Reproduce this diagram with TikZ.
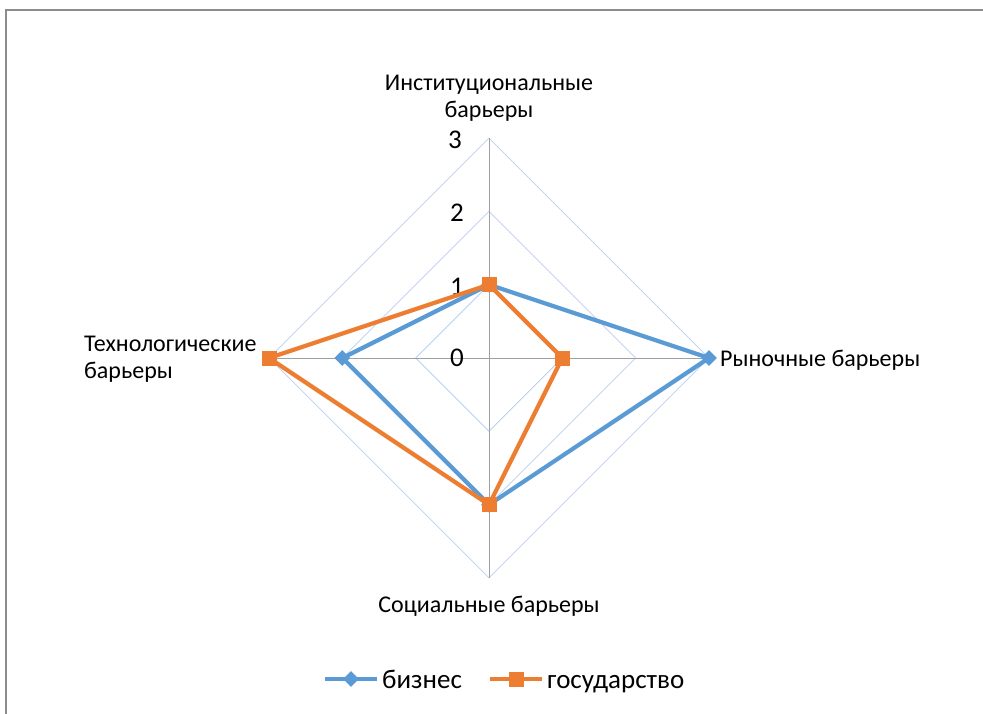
\documentclass[tikz,border=0pt]{standalone}
\usepackage{fontspec}
\setmainfont{Carlito}
\usetikzlibrary{shapes.geometric}
\definecolor{bizblue}{HTML}{5B9BD5}
\definecolor{govorange}{HTML}{ED7D31}
\definecolor{gridblue}{HTML}{B9CEEE}
\definecolor{axisgray}{HTML}{A0A0A0}
\definecolor{framegray}{HTML}{8C8C8C}
\tikzset{
  lbl/.style={font=\fontsize{24}{27}\selectfont, inner sep=0pt},
  biglbl/.style={font=\fontsize{27}{30}\selectfont, inner sep=0pt},
  ticklbl/.style={biglbl, anchor=base east},
  bizmark/.style={diamond, fill=bizblue, inner sep=0pt, minimum size=16pt},
  govmark/.style={rectangle, fill=govorange, inner sep=0pt, minimum size=15pt},
  bizline/.style={bizblue, line width=4.2pt},
  govline/.style={govorange, line width=4.2pt}
}
\begin{document}
\begin{tikzpicture}[x=1pt,y=1pt]
      \useasboundingbox (0,-714) rectangle (983,0);
      \draw[framegray, line width=1.5pt] (6,-714) -- (6,-10) -- (983,-10);
      \begin{scope}[shift={(489,-358)}]
        % grid
        \foreach \r in {1,2,3}
          \draw[gridblue, line width=0.8pt]
            (0:\r*73.3) -- (90:\r*73.3) -- (180:\r*73.3) -- (270:\r*73.3) -- cycle;
        \coordinate (c) at (0,0);
        \coordinate (inst) at (90:220);
        \coordinate (mkt) at (0:220);
        \coordinate (soc) at (270:220);
        \coordinate (tech) at (180:220);
        \begin{scope}[axisgray, line width=1pt]
          \draw (c) to (inst);
          \draw (c) to (mkt);
          \draw (c) to (soc);
          \draw (c) to (tech);
        \end{scope}
        % scale
        \node[ticklbl] (t0) at (-25,-8.5) {0};
        \node[ticklbl] (t1) at (-25,62.5) {1};
        \node[ticklbl] (t2) at (-25,136.5) {2};
        \node[ticklbl] (t3) at (-27,209.5) {3};
        % series
        \coordinate (b1) at (90:73.3);
        \coordinate (b2) at (0:220);
        \coordinate (b3) at (270:146.7);
        \coordinate (b4) at (180:146.7);
        \coordinate (g1) at (90:73.3);
        \coordinate (g2) at (0:73.3);
        \coordinate (g3) at (270:146.7);
        \coordinate (g4) at (180:220);
        \draw[bizline, line join=round] (b1) -- (b2) -- (b3) -- (b4) -- cycle;
        \foreach \p in {b1,b2,b3,b4}
          \node[bizmark] at (\p) {};
        \draw[govline, line join=round] (g1) -- (g2) -- (g3) -- (g4) -- cycle;
        \foreach \p in {g1,g2,g3,g4}
          \node[govmark] at (\p) {};
      \end{scope}
      % axis labels
      \node[lbl, align=center] (instlbl) at (489,-98) {Институциональные\\барьеры};
      \node[lbl, anchor=base west] (mktlbl) at (720,-366) {Рыночные барьеры};
      \node[lbl, anchor=base] (soclbl) at (489,-612) {Социальные барьеры};
      \node[lbl, align=left, anchor=west] (techlbl) at (84,-359) {Технологические\\барьеры};
      % legend
      \coordinate (lb1) at (325,-679);
      \coordinate (lb2) at (377,-679);
      \draw[bizline] (lb1) -- (lb2);
      \node[bizmark] (lbm) at (351,-679) {};
      \node[biglbl, anchor=base west] (lbt) at (382,-688) {бизнес};
      \coordinate (lg1) at (490,-679);
      \coordinate (lg2) at (542,-679);
      \draw[govline] (lg1) -- (lg2);
      \node[govmark] (lgm) at (516,-679) {};
      \node[biglbl, anchor=base west] (lgt) at (547,-688) {государство};
\end{tikzpicture}
\end{document}
